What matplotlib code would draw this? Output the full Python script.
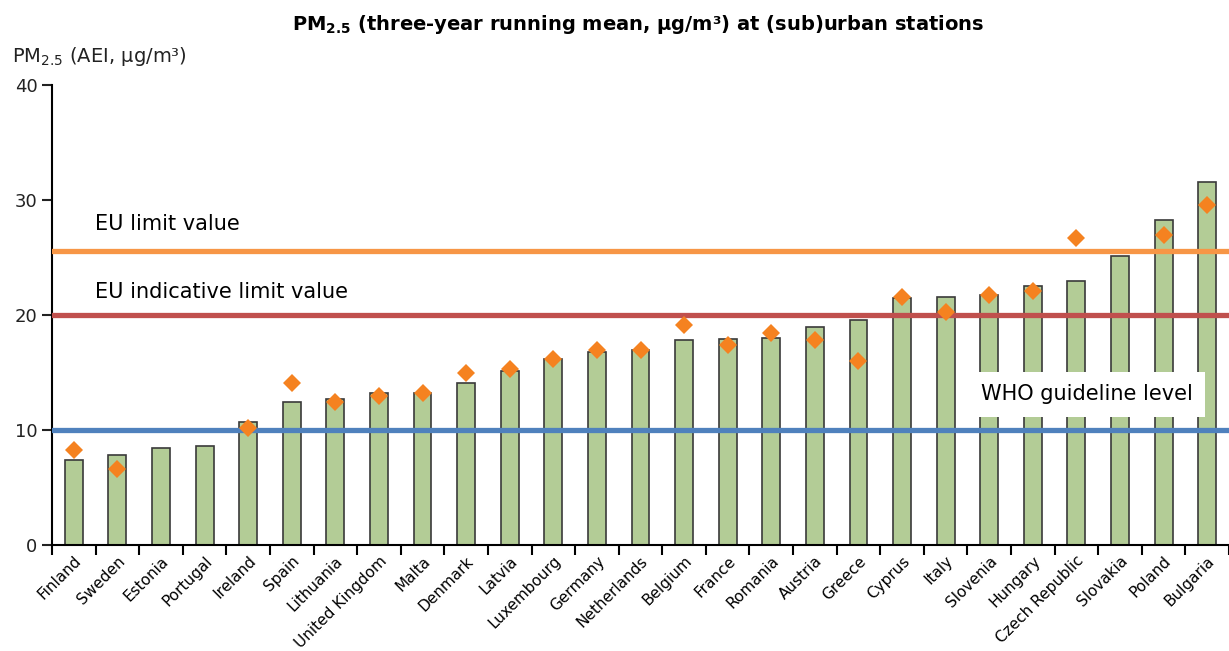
import numpy as np
import matplotlib.pyplot as plt

# данные
countries = ['Finland', 'Sweden', 'Estonia', 'Portugal', 'Ireland', 'Spain', 'Lithuania',
             'United Kingdom', 'Malta', 'Denmark', 'Latvia', 'Luxembourg', 'Germany',
             'Netherlands', 'Belgium', 'France', 'Romania', 'Austria', 'Greece', 'Cyprus',
             'Italy', 'Slovenia', 'Hungary', 'Czech Republic', 'Slovakia', 'Poland', 'Bulgaria']
bar_values = [7.4, 7.8, 8.4, 8.6, 10.7, 12.4, 12.7, 13.2, 13.2, 14.1, 15.1, 16.2, 16.8,
              16.95, 17.8, 17.9, 18.0, 19.0, 19.6, 21.5, 21.6, 21.7, 22.5, 23.0, 25.1, 28.3, 31.6]
marker_values = [8.3, 6.6, np.nan, np.nan, 10.2, 14.1, 12.4, 13.0, 13.2, 15.0, 15.3, 16.2, 17.0,
                 17.0, 19.1, 17.4, 18.4, 17.8, 16.0, 21.6, 20.3, 21.7, 22.1, 26.7, np.nan, 27.0, 29.6]
eu_limit = 25.6
eu_indicative = 20
who_level = 10

fig = plt.figure(figsize=(12.29, 6.51), dpi=100)
ax = fig.add_axes([52 / 1229, 1 - 545 / 651, 1 - 52 / 1229, 460 / 651])

x = np.arange(len(countries))
ax.bar(x, bar_values, width=0.41, color='#B3CC96', edgecolor='#3a3a3a', linewidth=1.2, zorder=2)

# горизонтальные линии
ax.axhline(eu_limit, color='#F79646', lw=3.8, zorder=3)
ax.axhline(eu_indicative, color='#C0504D', lw=3.8, zorder=3)
ax.axhline(who_level, color='#4F81BD', lw=3.8, zorder=3)

ax.plot(x, marker_values, 'D', color='#F58220', markersize=9, markeredgewidth=0, zorder=4)

ax.text(0.48, 27.9, 'EU limit value', fontsize=15, va='center', ha='left', zorder=5)
ax.text(0.48, 22.0, 'EU indicative limit value', fontsize=15, va='center', ha='left', zorder=5)
ax.text(20.8, 13.1, 'WHO guideline level', fontsize=15, va='center', ha='left', zorder=5,
        bbox=dict(facecolor='white', edgecolor='none', pad=9))

ax.set_xlim(-0.5, len(countries) - 0.5)
ax.set_ylim(0, 40)
ax.set_yticks([0, 10, 20, 30, 40])
ax.tick_params(axis='y', labelsize=13, length=7, width=1.5, direction='out', colors='#222222')

ax.set_xticks(x)
ax.set_xticklabels(countries, rotation=45, ha='right', rotation_mode='anchor', fontsize=11)
ax.tick_params(axis='x', which='major', length=0, pad=6)
ax.set_xticks(np.arange(-0.5, len(countries), 1), minor=True)
ax.tick_params(axis='x', which='minor', length=7, width=1.5, direction='out')

ax.spines['top'].set_visible(False)
ax.spines['right'].set_visible(False)
ax.spines['left'].set_linewidth(1.5)
ax.spines['bottom'].set_linewidth(1.5)

fig.text(638 / 1229, 1 - 25 / 651, r'PM$_{\mathbf{2.5}}$ (three-year running mean, µg/m³) at (sub)urban stations',
         ha='center', va='center', fontsize=14, fontweight='bold')
fig.text(12 / 1229, 1 - 57 / 651, r'PM$_{2.5}$ (AEI, µg/m³)', ha='left', va='center', fontsize=14,
         color='#222222')

fig.savefig('out.png', dpi=100)
